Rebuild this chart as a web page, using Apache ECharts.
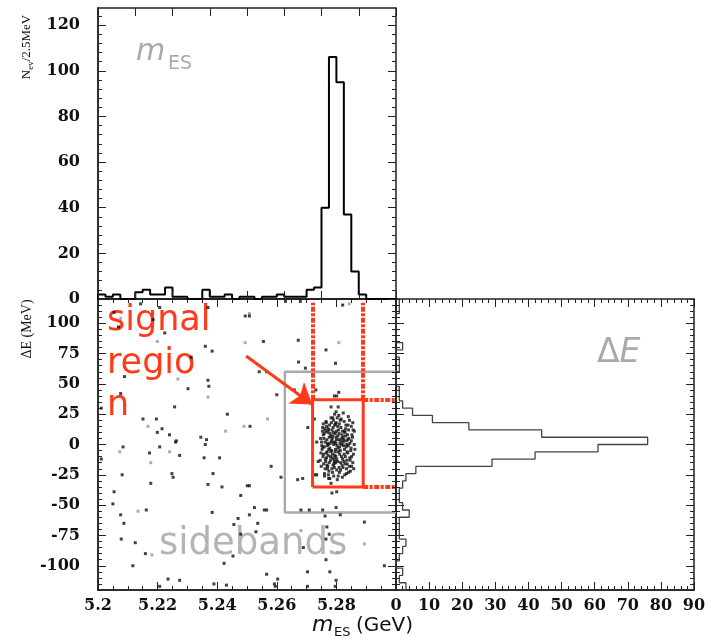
<!DOCTYPE html>
<html>
<head>
<meta charset="utf-8">
<script src="https://cdn.jsdelivr.net/npm/echarts@6/dist/echarts.min.js"></script>
<style>
html,body{margin:0;padding:0;background:#fff;}
#chart{width:711px;height:640px;}
</style>
</head>
<body>
<div id="chart"></div>
<script>
// m_ES histogram : 2.5 MeV bins starting at 5.2 GeV
var mesStart = 5.2, mesBin = 0.0025;
var mesCounts = [2,1,2,0,0,3,4,2,2,5,1,1,0,0,4,1,1,2,0,1,1,0,1,1,2,1,1,1,4,5,40,106,95,37,12,2,0,0,0,0];
// Delta E histogram : 6 MeV bins starting at -120 MeV
var deStart = -120, deBin = 6;
var deCounts = [3,1,2,0,1,2,3,1,1,1,4,2,1,1,2,3,6,29,42,61,76,44,22,11,5,2,1,1,0,0,1,1,0,2,0,0,0,0,1,1];
var deTicks = [-100,-75,-50,-25,0,25,50,75,100];

// scatter : events outside the signal peak (mES GeV, dE MeV)
var bgDark = [
  [5.2143,116],[5.2207,113],[5.2369,113],[5.2054,109],[5.2069,97],[5.2185,103],[5.2224,92],[5.2360,81],[5.2383,77],[5.2494,106],
  [5.2313,72],[5.2089,56],[5.2369,53],[5.2372,48],[5.2302,46],[5.2076,42],[5.2257,31],[5.2434,25],[5.2151,21],[5.2196,21],
  [5.2215,13],[5.2199,10],[5.2240,8],[5.2263,3],[5.2345,6],[5.2364,4],[5.2011,30],
  [5.2629,118],[5.2679,118],[5.2821,115],[5.2508,106],[5.2555,85],[5.2672,86],[5.2765,78],[5.2797,67],[5.2673,68],[5.2696,63],
  [5.2541,60],[5.2566,60],[5.2659,45],[5.2600,41],[5.2731,45],[5.2793,40],[5.2808,43],[5.2510,15],[5.2726,21],[5.2801,40],[5.2704,14],
  [5.2084,-2],[5.2207,-2],[5.2260,2],[5.2173,-7],[5.2274,-9],[5.2360,0],[5.2356,-11],[5.2408,-11],[5.2011,-12],[5.2081,-25],
  [5.2248,-24],[5.2252,-27],[5.2386,-24],[5.2177,-32],[5.2369,-33],[5.2416,-35],[5.2501,-34],[5.2054,-39],[5.2050,-49],[5.2479,-42],
  [5.2162,-54],[5.2076,-58],[5.2383,-56],[5.2087,-65],[5.2470,-61],[5.2456,-66],[5.2479,-74],[5.2078,-78],[5.2125,-81],[5.2159,-90],
  [5.2453,-92],[5.2423,-98],[5.2117,-100],[5.2235,-111],[5.2274,-112],[5.2207,-117],[5.2389,-115],[5.2431,-116],
  [5.2581,-18],[5.2614,-27],[5.2670,-29],[5.2687,-28],[5.2729,-25],[5.2760,-26],[5.2774,-28],[5.2782,-32],[5.2785,-40],[5.2801,-39],
  [5.2508,-34],[5.2525,-52],[5.2558,-54],[5.2566,-54],[5.2508,-58],[5.2681,-54],[5.2709,-54],[5.2754,-54],[5.2762,-59],[5.2799,-52],
  [5.2813,-58],[5.2894,-64],[5.2536,-65],[5.2530,-72],[5.2768,-68],[5.2765,-78],[5.2776,-74],[5.2689,-85],[5.2765,-95],[5.2961,-100],
  [5.2566,-107],[5.2703,-105],[5.2778,-105],[5.2603,-111],[5.2592,-115],[5.2595,-117],[5.2703,-117],[5.2796,-117],[5.2799,-112]
];
var bgGray = [
  [5.2076,104],[5.2199,85],[5.2494,84],[5.2268,54],[5.2369,39],[5.2168,15],[5.2428,11],[5.2490,15],[5.2843,116],[5.2508,108],
  [5.2808,84],[5.2569,21],[5.2073,-6],[5.2240,-6],[5.2177,-15],[5.2134,-55],[5.2181,-91],[5.2681,-71],[5.2894,-82],[5.2804,-89]
];
// signal peak events
var sigPoints = [
  [5.2782,31],[5.2806,31],[5.2840,23],[5.2855,18],[5.2788,22],[5.2797,17],[5.2860,11],[5.2734,2],[5.2862,-4],[5.2739,-14],
  [5.2734,-25],[5.2834,-24],[5.2851,-18],
  [5.2795,2],[5.2806,-3],[5.2818,5],[5.2781,-6],[5.2824,-1],[5.2768,4],[5.2809,9],[5.2786,-11],[5.2833,3],[5.2774,12],
  [5.2797,-15],[5.2815,14],[5.2759,-2],[5.2838,-7],[5.2788,7],[5.2821,-12],[5.2772,-9],[5.2799,18],[5.2829,10],[5.2756,8],
  [5.2845,1],[5.2793,-19],[5.2777,16],[5.2811,-8],[5.2764,-14],[5.2836,-16],[5.2791,0],[5.2822,6],[5.2752,-4],[5.2849,-3],
  [5.2803,22],[5.2771,-18],[5.2814,-21],[5.2761,13],[5.2841,12],[5.2783,3],[5.2826,19],[5.2796,-6],[5.2769,-1],[5.2812,1],
  [5.2750,2],[5.2854,6],[5.2787,-23],[5.2830,-10],[5.2765,19],[5.2806,-26],[5.2846,-13],[5.2779,9],[5.2800,11],[5.2819,-17],
  [5.2755,-10],[5.2839,16],[5.2794,25],[5.2773,-25],[5.2827,-4],[5.2767,15],[5.2808,4],[5.2834,-20],[5.2762,-20],[5.2798,-10],
  [5.2857,-8],[5.2748,-7],[5.2816,21],[5.2780,-13],[5.2843,-18],[5.2758,5],[5.2823,2],[5.2789,14],[5.2802,-1],[5.2776,6],
  [5.2837,8],[5.2753,11],[5.2813,-5],[5.2766,-7],[5.2850,3],[5.2792,-16],[5.2831,13],[5.2778,-3],[5.2805,7],[5.2757,-16],
  [5.2825,-14],[5.2790,20],[5.2847,-22],[5.2770,1],[5.2810,17],[5.2785,-20],[5.2835,0],[5.2751,-1],[5.2801,-12],[5.2775,-22],
  [5.2842,5],[5.2796,9],[5.2820,11],[5.2763,-12],[5.2855,-15],[5.2782,22],[5.2828,-25],[5.2771,10],[5.2809,-19],[5.2756,17],
  [5.2860,0],[5.2746,-13],[5.2799,27],[5.2836,-6],[5.2815,3],[5.2774,-4],[5.2787,-8],[5.2844,20],[5.2760,-24],[5.2803,-29],
  [5.2823,26],[5.2779,1],[5.2830,7],[5.2793,-14],[5.2754,14],[5.2851,-10],[5.2807,12],[5.2768,-17],[5.2833,-2],[5.2786,5],
  [5.2800,4],[5.2811,-2],[5.2784,-5],[5.2819,8],[5.2795,-9],[5.2773,0],[5.2826,-8],[5.2804,15],[5.2790,10],[5.2814,-15],
  [5.2780,-10],[5.2838,4],[5.2762,2],[5.2797,-4],[5.2822,-19],[5.2772,13],[5.2845,-11],[5.2783,18],[5.2810,-23],[5.2757,-8],
  [5.2832,16],[5.2791,-26],[5.2852,8],[5.2767,-11],[5.2799,6],[5.2817,-10],[5.2776,-15],[5.2840,-1],[5.2788,2],[5.2806,-6],
  [5.2759,9],[5.2827,11],[5.2794,16],[5.2770,-20],[5.2818,0],[5.2749,-18],[5.2856,12],[5.2801,-21],[5.2781,7],[5.2835,-13],
  [5.2769,-6],[5.2813,20],[5.2789,-17],[5.2848,-5],[5.2764,11],[5.2804,-14],[5.2824,4],[5.2785,12],[5.2841,-23],[5.2755,-2],
  [5.2858,-20],[5.2747,5],[5.2808,24],[5.2778,-28],[5.2829,-16],[5.2798,1],[5.2766,18],[5.2850,15],[5.2792,-12],[5.2820,-27]
];

// region boxes (mES GeV, dE MeV)
var sigBoxMes = [5.272, 5.289], sigBoxDe = [-35, 37];
var sideBoxMes = [5.2627, 5.3], sideBoxDe = [-56, 60];
var dashTop = 117;
var arrowFrom = [5.2497, 73], arrowTo = [5.2719, 33];

var RED = '#ff3a1a', GRAY = '#aaaaaa';
var GW = 298, GH = 291;                 // panel size in px

function r5(v){ return Math.round(v*100000)/100000; }
function range(lo, hi, step){
  var a = [], n = Math.round((hi-lo)/step);
  for(var i=0;i<=n;i++) a.push(r5(lo+i*step));
  return a;
}
function notOn(vals, major){            // drop values that sit on a major tick
  return vals.filter(function(v){ var q = v/major; return Math.abs(q-Math.round(q)) > 1e-6; });
}

function stepUp(lo, w, counts){        // histogram outline, counts on y
  var pts = [[lo, 0]];
  for(var i=0;i<counts.length;i++){
    pts.push([r5(lo+i*w), counts[i]], [r5(lo+(i+1)*w), counts[i]]);
  }
  pts.push([r5(lo+counts.length*w), 0]);
  return pts;
}
function stepSide(lo, w, counts){      // histogram outline, counts on x
  var pts = [[0, lo]];
  for(var i=0;i<counts.length;i++){
    pts.push([counts[i], r5(lo+i*w)], [counts[i], r5(lo+(i+1)*w)]);
  }
  pts.push([0, r5(lo+counts.length*w)]);
  return pts;
}

// inward tick marks on the four sides of a panel, as markLine segments
function tickLines(xMaj, xMin, yMaj, yMin, xr, yr, lenPx){
  var dy = lenPx*(yr[1]-yr[0])/GH, dx = lenPx*(xr[1]-xr[0])/GW, segs = [];
  function xt(v, f){
    segs.push([{coord:[v, yr[0]]},{coord:[v, yr[0]+dy*f]}]);
    segs.push([{coord:[v, yr[1]]},{coord:[v, yr[1]-dy*f]}]);
  }
  function yt(v, f){
    segs.push([{coord:[xr[0], v]},{coord:[xr[0]+dx*f, v]}]);
    segs.push([{coord:[xr[1], v]},{coord:[xr[1]-dx*f, v]}]);
  }
  xMaj.forEach(function(v){ xt(v, 1); });
  xMin.forEach(function(v){ xt(v, 0.5); });
  yMaj.forEach(function(v){ yt(v, 1); });
  yMin.forEach(function(v){ yt(v, 0.5); });
  return segs;
}
function tickSeries(xi, yi, segs){
  return {type:'line', xAxisIndex:xi, yAxisIndex:yi, data:[], symbol:'none', silent:true, z:10,
          markLine:{silent:true, symbol:['none','none'], label:{show:false}, animation:false,
                    lineStyle:{color:'#222', width:1, type:'solid'}, emphasis:{disabled:true}, data:segs}};
}

var ticks0 = tickLines(range(5.2,5.3,0.0125), [], range(0,120,20), notOn(range(0,124,4),20), [5.2,5.3], [0,127.5], 8);
var ticks1 = tickLines(range(5.2,5.3,0.02), notOn(range(5.2,5.3,0.005),0.02), deTicks, notOn(range(-120,120,5),25), [5.2,5.3], [-120,120], 8);
var ticks2 = tickLines(range(0,90,10), notOn(range(0,90,2),10), deTicks, notOn(range(-120,120,5),25), [0,90], [-120,120], 8);

var tickLbl = {show:true, fontFamily:'DejaVu Serif', fontWeight:'bold', fontSize:16, color:'#111'};
function lbl(extra){
  var l = {};
  for(var k in tickLbl) l[k] = tickLbl[k];
  for(var k in extra) l[k] = extra[k];
  return l;
}
function ax(o){
  var a = {type:'value', splitLine:{show:false}, axisTick:{show:false}, minorTick:{show:false}, axisLabel:{show:false},
           axisLine:{show:true, onZero:false, lineStyle:{color:'#222', width:1.5}}};
  for(var k in o) a[k] = o[k];
  return a;
}

var chart = echarts.init(document.getElementById('chart'));

var boxPath = [[sigBoxMes[0],sigBoxDe[0]],[sigBoxMes[0],sigBoxDe[1]],[sigBoxMes[1],sigBoxDe[1]],[sigBoxMes[1],sigBoxDe[0]],[sigBoxMes[0],sigBoxDe[0]]];
var sidePath = [[sideBoxMes[1],sideBoxDe[1]],[sideBoxMes[0],sideBoxDe[1]],[sideBoxMes[0],sideBoxDe[0]],[sideBoxMes[1],sideBoxDe[0]]];

var frame = {show:true, borderColor:'#222', borderWidth:1.5, backgroundColor:'rgba(0,0,0,0)'};
option = {
  animation:false,
  grid:[
    Object.assign({left:98, top:8, width:GW, height:GH}, frame),
    Object.assign({left:98, top:299, width:GW, height:GH}, frame),
    Object.assign({left:396, top:299, width:GW, height:GH}, frame)
  ],
  xAxis:[
    ax({gridIndex:0, min:5.2, max:5.3, interval:0.0125}),
    ax({gridIndex:1, min:5.2, max:5.3, interval:0.02, axisLabel:lbl({margin:8, showMaxLabel:false})}),
    ax({gridIndex:2, min:0, max:90, interval:10, axisLabel:lbl({margin:8})})
  ],
  yAxis:[
    ax({gridIndex:0, min:0, max:127.5, interval:20, axisLabel:lbl({margin:18, showMaxLabel:false})}),
    ax({gridIndex:1, min:-120, max:120, interval:5, axisLabel:lbl({margin:18, customValues:deTicks})}),
    ax({gridIndex:2, min:-120, max:120, interval:5})
  ],
  series:[
    {type:'line', xAxisIndex:0, yAxisIndex:0, data:stepUp(mesStart, mesBin, mesCounts),
     symbol:'none', silent:true, lineStyle:{color:'#000', width:2}},
    {type:'line', xAxisIndex:2, yAxisIndex:2, data:stepSide(deStart, deBin, deCounts),
     symbol:'none', silent:true, lineStyle:{color:'#444', width:1.3}},
    {type:'line', xAxisIndex:1, yAxisIndex:1, data:sidePath, symbol:'none', silent:true,
     lineStyle:{color:GRAY, width:2.5}, z:2},
    {type:'scatter', xAxisIndex:1, yAxisIndex:1, data:bgGray, symbol:'rect', symbolSize:3,
     itemStyle:{color:'#999'}, silent:true, z:3},
    {type:'scatter', xAxisIndex:1, yAxisIndex:1, data:bgDark, symbol:'rect', symbolSize:3,
     itemStyle:{color:'#111'}, silent:true, z:3},
    {type:'scatter', xAxisIndex:1, yAxisIndex:1, data:sigPoints, symbol:'rect', symbolSize:3,
     itemStyle:{color:'#111'}, silent:true, z:3},
    {type:'line', xAxisIndex:1, yAxisIndex:1, data:boxPath, symbol:'none', silent:true,
     lineStyle:{color:RED, width:3}, z:5,
     markLine:{silent:true, symbol:['none','none'], label:{show:false},
       lineStyle:{color:RED, width:4, type:[5,1.5,3,1.5]},
       data:[
         [{coord:[sigBoxMes[0], sigBoxDe[1]]},{coord:[sigBoxMes[0], dashTop]}],
         [{coord:[sigBoxMes[1], sigBoxDe[1]]},{coord:[sigBoxMes[1], dashTop]}],
         [{coord:[sigBoxMes[1], sigBoxDe[1]]},{coord:[5.3, sigBoxDe[1]]}],
         [{coord:[sigBoxMes[1], sigBoxDe[0]]},{coord:[5.3, sigBoxDe[0]]}]
       ]}},
    {type:'line', xAxisIndex:1, yAxisIndex:1, data:[], symbol:'none', silent:true, z:6,
     markLine:{silent:true, symbol:['none','arrow'], symbolSize:20, label:{show:false},
       lineStyle:{color:RED, width:3, type:'solid'},
       data:[[{coord:arrowFrom},{coord:arrowTo}]]}},
    tickSeries(0, 0, ticks0),
    tickSeries(1, 1, ticks1),
    tickSeries(2, 2, ticks2)
  ],
  graphic:[
    // axis titles
    {type:'text', x:27, y:47, rotation:Math.PI/2, style:{text:'{a|N}{b|ev}{a|/2.5MeV}', align:'center', verticalAlign:'middle',
      rich:{a:{fontFamily:'Liberation Serif', fontSize:13, fill:'#111'},
            b:{fontFamily:'Liberation Serif', fontSize:9, fill:'#111', verticalAlign:'bottom', lineHeight:16}}}},
    {type:'text', x:27, y:329, rotation:Math.PI/2, style:{text:'ΔE (MeV)', fontFamily:'Liberation Serif', fontSize:14,
      fill:'#111', align:'center', verticalAlign:'middle'}},
    {type:'text', x:312, y:625, style:{text:'m', fontFamily:'DejaVu Sans', fontStyle:'italic', fontSize:22, fill:'#111', verticalAlign:'middle'}},
    {type:'text', x:334, y:633, style:{text:'ES', fontFamily:'DejaVu Sans', fontSize:13, fill:'#111', verticalAlign:'middle'}},
    {type:'text', x:356, y:626, style:{text:'(GeV)', fontFamily:'DejaVu Sans', fontSize:20, fill:'#111', verticalAlign:'middle'}},
    // panel labels
    {type:'text', x:136, y:52, style:{text:'m', fontFamily:'DejaVu Sans', fontStyle:'italic', fontSize:30, fill:GRAY, verticalAlign:'middle'}},
    {type:'text', x:168, y:64, style:{text:'ES', fontFamily:'DejaVu Sans', fontSize:19, fill:GRAY, verticalAlign:'middle'}},
    {type:'text', x:597, y:353, style:{text:'{d|Δ}{e|E}', verticalAlign:'middle',
      rich:{d:{fontFamily:'DejaVu Sans', fontSize:33, fill:GRAY}, e:{fontFamily:'DejaVu Sans', fontStyle:'italic', fontSize:33, fill:GRAY}}}},
    {type:'text', x:107, y:321, style:{text:'signal', fontFamily:'DejaVu Sans', fontSize:35, fill:RED, verticalAlign:'middle'}},
    {type:'text', x:107, y:364, style:{text:'regio', fontFamily:'DejaVu Sans', fontSize:35, fill:RED, verticalAlign:'middle'}},
    {type:'text', x:107, y:406, style:{text:'n', fontFamily:'DejaVu Sans', fontSize:35, fill:RED, verticalAlign:'middle'}},
    {type:'text', x:159, y:544, style:{text:'sidebands', fontFamily:'DejaVu Sans', fontSize:37, fill:'#b4b4b4', verticalAlign:'middle'}, z:1}
  ]
};
chart.setOption(option);
</script>
</body>
</html>
